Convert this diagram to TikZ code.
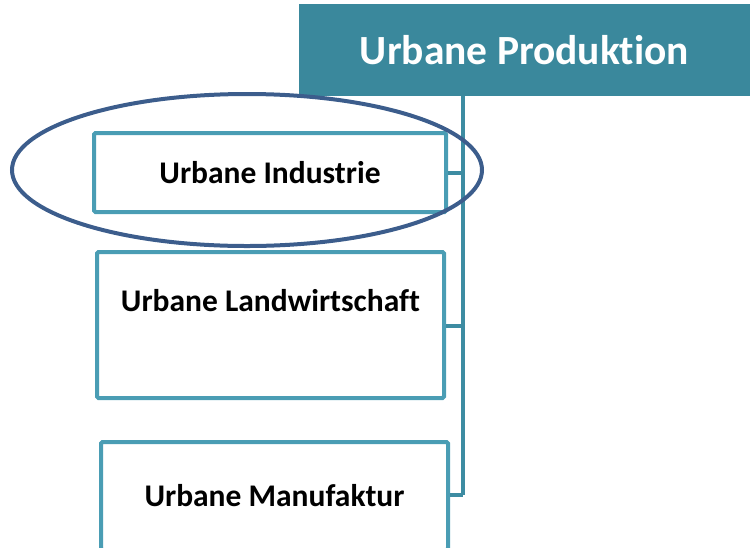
\documentclass[tikz,border=0pt]{standalone}
\usepackage{fontspec}
\setmainfont{Carlito}[RawFeature=-liga]
\usetikzlibrary{shapes.geometric,calc}
\definecolor{headteal}{HTML}{3A889C}
\definecolor{boxteal}{HTML}{4A9DB4}
\definecolor{trunkteal}{HTML}{3D8CA2}
\definecolor{ellblue}{HTML}{3C5D8C}
\tikzset{
  subbox/.style={draw=boxteal, line width=4pt, rounded corners=1.5pt, fill=white, inner sep=0pt,
    font=\fontsize{31.5}{36}\selectfont\bfseries, text=black},
  headbox/.style={fill=headteal, inner sep=0pt, font=\fontsize{41.5}{48}\selectfont\bfseries, text=white},
  trunk/.style={draw=trunkteal, line width=4pt},
  ring/.style={draw=ellblue, line width=4pt, ellipse, inner sep=0pt}
}
\begin{document}
\begin{tikzpicture}[x=1pt,y=-1pt]
\useasboundingbox (0,0) rectangle (750,547);
\node[headbox, minimum width=452pt, minimum height=92pt] (head) at (524.5,50) {Urbane Produktion};
\coordinate (top) at (463,96);
\coordinate (bot) at (463,495);
\draw[trunk] (top) -- (bot);
\node[subbox, minimum width=352pt, minimum height=79pt] (b1) at (270,172.5) {Urbane Industrie};
\node[subbox, anchor=north, minimum width=347pt, text height=59pt, text depth=87pt] (b2) at (270.5,250) {Urbane Landwirtschaft};
\node[subbox, minimum width=347pt, minimum height=108pt] (b3) at (274.5,496) {Urbane Manufaktur};
\draw[trunk] (b1.east) -- (b1.east -| top);
\draw[trunk] ($(b2.east)+(0,1)$) -- ($(b2.east -| top)+(0,1)$);
\draw[trunk] (b3.east -| b3.east) ++(0,-1) -- (bot);
\node[ring, minimum width=470pt, minimum height=152pt] (ell) at (247,170) {};
\end{tikzpicture}
\end{document}
